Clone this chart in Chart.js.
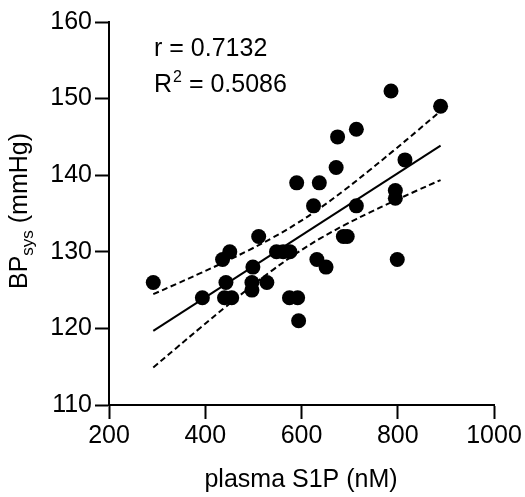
<!DOCTYPE html>
<html>
<head>
<meta charset="utf-8">
<script src="https://cdn.jsdelivr.net/npm/chart.js@4.4.0/dist/chart.umd.min.js"></script>
<style>
  body { margin: 0; background: #fff; }
  #wrap { width: 525px; height: 497px; }
</style>
</head>
<body>
<div id="wrap"><canvas id="bpChart"></canvas></div>
<script>
// plasma S1P (nM) and systolic BP (mmHg)
const s1p = [292, 394, 436, 451, 511, 443, 440, 455, 499, 497, 497, 528, 548, 562, 576, 575, 592, 594,
             590, 637, 625, 632, 651, 672, 675, 714, 714, 687, 695, 786, 889, 815, 795, 795, 799];
const bpSys = [126, 124, 129, 130, 132, 126, 124, 124, 128, 126, 125, 126, 130, 130, 130, 124, 124, 121,
               139, 139, 136, 129, 128, 141, 145, 146, 136, 132, 132, 151, 149, 142, 138, 137, 129];

const xTicks = [200, 400, 600, 800, 1000];
const yTicks = [110, 120, 130, 140, 150, 160];

// x positions where the 95% confidence band is evaluated
const bandX = [292, 340, 390, 440, 490, 540, 590, 640, 690, 740, 790, 840, 889];

const FONT = "'Liberation Sans', Arial, sans-serif";

// linear regression with 95% CI of the fitted line
const n = s1p.length;
const mx = s1p.reduce((a, b) => a + b, 0) / n;
const my = bpSys.reduce((a, b) => a + b, 0) / n;
let sxx = 0, sxy = 0;
s1p.forEach((x, i) => { sxx += (x - mx) ** 2; sxy += (x - mx) * (bpSys[i] - my); });
const slope = sxy / sxx;
const icpt = my - slope * mx;
let sse = 0;
s1p.forEach((x, i) => { sse += (bpSys[i] - (icpt + slope * x)) ** 2; });
const se = Math.sqrt(sse / (n - 2));
const tCrit = 2.0345; // t(0.975, df = 33)
const half = x => tCrit * se * Math.sqrt(1 / n + (x - mx) ** 2 / sxx);

const xMin = Math.min(...s1p), xMax = Math.max(...s1p);
const fitLine = [{ x: xMin, y: icpt + slope * xMin }, { x: xMax, y: icpt + slope * xMax }];
const upper = bandX.map(x => ({ x: x, y: icpt + slope * x + half(x) }));
const lower = bandX.map(x => ({ x: x, y: icpt + slope * x - half(x) }));

const labelsPlugin = {
    id: 'labels',
    afterDraw(chart) {
        const ctx = chart.ctx;
        ctx.save();
        ctx.fillStyle = '#000';
        ctx.textBaseline = 'alphabetic';
        ctx.textAlign = 'left';

        // statistics
        ctx.font = '25px ' + FONT;
        ctx.fillText('r = 0.7132', 154, 56);
        ctx.fillText('R', 154, 92);
        let w = ctx.measureText('R').width;
        ctx.font = '16px ' + FONT;
        ctx.fillText('2', 154 + w + 1, 82);
        let w2 = ctx.measureText('2').width;
        ctx.font = '25px ' + FONT;
        ctx.fillText(' = 0.5086', 154 + w + w2 + 1, 92);

        // x title
        ctx.textAlign = 'center';
        ctx.fillText('plasma S1P (nM)', 301, 487);

        // y title with subscript
        ctx.translate(27, 211);
        ctx.rotate(-Math.PI / 2);
        ctx.textAlign = 'left';
        const bp = 'BP', sub = 'sys', rest = ' (mmHg)';
        ctx.font = '25px ' + FONT;
        const wBP = ctx.measureText(bp).width;
        const wRest = ctx.measureText(rest).width;
        ctx.font = '17px ' + FONT;
        const wSub = ctx.measureText(sub).width;
        let x0 = -(wBP + wSub + wRest) / 2;
        ctx.font = '25px ' + FONT;
        ctx.fillText(bp, x0, 0);
        ctx.font = '17px ' + FONT;
        ctx.fillText(sub, x0 + wBP, 6);
        ctx.font = '25px ' + FONT;
        ctx.fillText(rest, x0 + wBP + wSub, 0);
        ctx.restore();
    }
};

const axisStyle = {
    grid: { display: true, drawOnChartArea: false, drawTicks: true, tickLength: 14, tickWidth: 2, color: '#000' },
    border: { display: true, width: 2, color: '#000' },
};

const config = {
    type: 'scatter',
    data: {
        datasets: [
            {
                label: 'data',
                data: s1p.map((x, i) => ({ x: x, y: bpSys[i] })),
                backgroundColor: '#000',
                borderWidth: 0,
                pointRadius: 7.5,
                order: 0
            },
            {
                label: 'fit',
                data: fitLine,
                showLine: true,
                borderColor: '#000',
                borderWidth: 2,
                pointRadius: 0,
                order: 1
            },
            {
                label: 'upper 95% CI',
                data: upper,
                showLine: true,
                borderColor: '#000',
                borderWidth: 2,
                borderDash: [6, 3.5],
                tension: 0.4,
                pointRadius: 0,
                order: 1
            },
            {
                label: 'lower 95% CI',
                data: lower,
                showLine: true,
                borderColor: '#000',
                borderWidth: 2,
                borderDash: [6, 3.5],
                tension: 0.4,
                pointRadius: 0,
                order: 1
            }
        ]
    },
    options: {
        responsive: true,
        maintainAspectRatio: false,
        animation: false,
        layout: { padding: { top: 22, right: 31, left: 0, bottom: 0 } },
        plugins: { legend: { display: false }, tooltip: { enabled: false } },
        scales: {
            x: {
                type: 'linear',
                min: 200,
                max: 1000,
                afterBuildTicks: s => { s.ticks = xTicks.map(v => ({ value: v })); },
                afterFit: s => { s.height = 92; },
                ticks: {
                    color: '#000',
                    font: { size: 25, family: FONT },
                    padding: 2,
                    maxRotation: 0,
                    callback: v => String(v)
                },
                ...axisStyle
            },
            y: {
                min: 110,
                max: 160,
                afterBuildTicks: s => { s.ticks = yTicks.map(v => ({ value: v })); },
                afterFit: s => { s.width = 109; },
                ticks: { color: '#000', font: { size: 25, family: FONT }, padding: 3, callback: v => String(v) },
                ...axisStyle
            }
        }
    },
    plugins: [labelsPlugin]
};

new Chart(document.getElementById('bpChart'), config);
</script>
</body>
</html>
